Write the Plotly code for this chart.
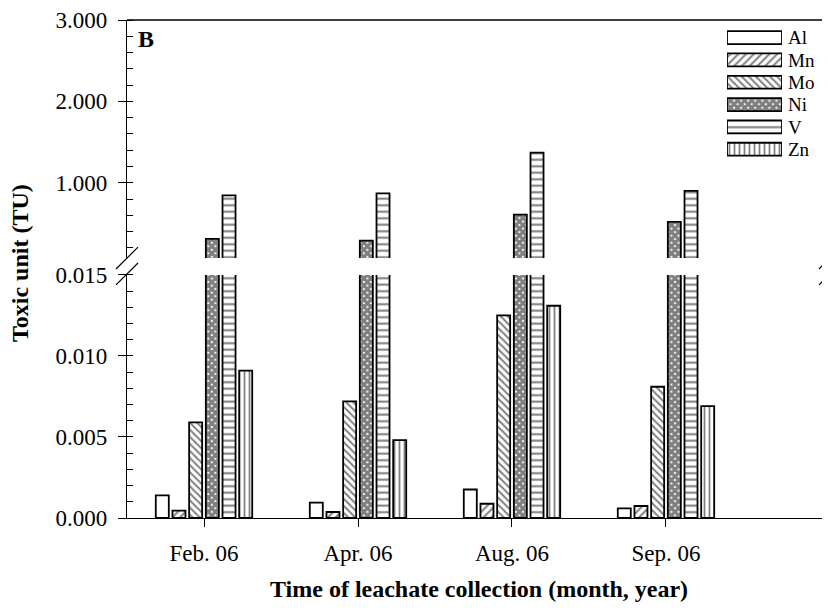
import plotly.graph_objects as go

months = ["Feb. 06", "Apr. 06", "Aug. 06", "Sep. 06"]
metals = ["Al", "Mn", "Mo", "Ni", "V", "Zn"]
al = [0.0014, 0.00095, 0.00176, 0.0006]
mn = [0.00045, 0.00037, 0.00088, 0.00074]
mo = [0.0059, 0.0072, 0.0125, 0.0081]
ni = [0.31, 0.29, 0.61, 0.52]
v = [0.845, 0.87, 1.37, 0.90]
zn = [0.0091, 0.0048, 0.0131, 0.0069]
series = [al, mn, mo, ni, v, zn]

pat_shape = {"Al": "", "Mn": "/", "Mo": "\\", "Ni": "x", "V": "-", "Zn": "|"}
pat_size = {"Al": 6, "Mn": 5.5, "Mo": 5, "Ni": 5, "V": 6.5, "Zn": 5}
pat_sol = {"Al": 0.3, "Mn": 0.35, "Mo": 0.4, "Ni": 0.85, "V": 0.32, "Zn": 0.35}

FONT = "Liberation Serif"
LINEW = 1.8

# page offset of the plotly div inside the browser body (8px margin)
OFF = 8
W, H = 830 - OFF, 612 - OFF
L, R, T, B = 127 - OFF, 0, 16 - OFF, (612 - 518)
pw, ph = W - L - R, H - T - B

def px(xr):  # reference-screen x -> paper
    return (xr - 127) / pw
def py(yr):  # reference-screen y -> paper
    return (518 - yr) / ph

fig = go.Figure()
x_idx = list(range(len(months)))
for name, vals in zip(metals, series):
    pat = dict(shape=pat_shape[name], size=pat_size[name], solidity=pat_sol[name],
               fgcolor="black", bgcolor="white")
    for ax in ("y", "y2"):
        fig.add_trace(go.Bar(
            x=x_idx, y=vals, name=name, xaxis="x", yaxis=ax, showlegend=False,
            marker=dict(color="white", line=dict(color="black", width=LINEW), pattern=pat),
        ))

# legend drawn as a small horizontal-bar panel (wide patterned swatches)
fig.add_trace(go.Bar(
    y=metals, x=[1] * len(metals), orientation="h", xaxis="x3", yaxis="y3",
    width=0.58, showlegend=False, hoverinfo="skip",
    marker=dict(color="white", line=dict(color="black", width=LINEW),
                pattern=dict(shape=[pat_shape[m] for m in metals],
                             size=[pat_size[m] for m in metals],
                             solidity=[pat_sol[m] for m in metals],
                             fgcolor="black", bgcolor="white")),
))

upper_bottom = 256
lower_top = 273
tick_common = dict(showline=True, linecolor="black", linewidth=1.3,
                   ticks="outside", ticklen=8, tickcolor="black", tickwidth=1.3,
                   showgrid=False, zeroline=False,
                   tickfont=dict(family=FONT, size=23))

fig.update_layout(
    width=W, height=H,
    margin=dict(l=L, r=R, t=T, b=B),
    paper_bgcolor="white", plot_bgcolor="white",
    font=dict(family=FONT, size=22, color="black"),
    barmode="group", bargap=0.35, bargroupgap=0.22,
    showlegend=False,
    xaxis=dict(range=[-0.5, 4.065], tickvals=x_idx, ticktext=months,
               anchor="y", ticklabelstandoff=6, **tick_common),
    yaxis=dict(domain=[0, py(lower_top)], range=[0, 0.015], dtick=0.005,
               tickformat=".3f", anchor="x", ticklabelstandoff=6,
               minor=dict(ticks="inside", ticklen=6, dtick=0.001, tickcolor="black", tickwidth=1.3),
               **tick_common),
    yaxis2=dict(domain=[py(upper_bottom), 1], range=[0.075, 3.0], dtick=1, tick0=0,
                tickformat=".3f", anchor="x", ticklabelstandoff=6,
                minor=dict(ticks="inside", ticklen=6, dtick=0.2, tick0=0, tickcolor="black", tickwidth=1.3),
                **tick_common),
    xaxis3=dict(domain=[px(727), px(782)], range=[0, 1], anchor="y3",
                visible=False, fixedrange=True),
    yaxis3=dict(domain=[py(157.5), py(22.5)], range=[5.5, -0.5], anchor="x3",
                type="category", tickmode="array", tickvals=metals, ticktext=metals,
                side="right", showline=False, ticks="", showgrid=False, zeroline=False,
                ticklabelstandoff=5, tickfont=dict(family=FONT, size=19), fixedrange=True),
)

shapes = [dict(type="line", xref="paper", yref="paper", x0=0, x1=1, y0=1, y1=1,
               line=dict(color="black", width=1.3))]
d = 11
for cx in (127, 830):
    for cy in (upper_bottom, lower_top - 1):
        shapes.append(dict(type="line", xref="paper", yref="paper",
                           x0=px(cx - d), y0=py(cy + d), x1=px(cx + d), y1=py(cy - d),
                           line=dict(color="black", width=1.2)))
fig.update_layout(shapes=shapes)

fig.add_annotation(text="<b>B</b>", xref="paper", yref="paper", x=px(136), y=py(35),
                   xanchor="left", yanchor="middle", showarrow=False,
                   font=dict(family=FONT, size=24))
fig.add_annotation(text="<b>Toxic unit (TU)</b>", xref="paper", yref="paper",
                   x=px(20), y=py(261), textangle=-90, xanchor="center", yanchor="middle",
                   showarrow=False, font=dict(family=FONT, size=24))
fig.add_annotation(text="<b>Time of leachate collection (month, year)</b>", xref="paper", yref="paper",
                   x=px(479), y=py(590), xanchor="center", yanchor="middle",
                   showarrow=False, font=dict(family=FONT, size=24))

fig.write_html("out.html")
